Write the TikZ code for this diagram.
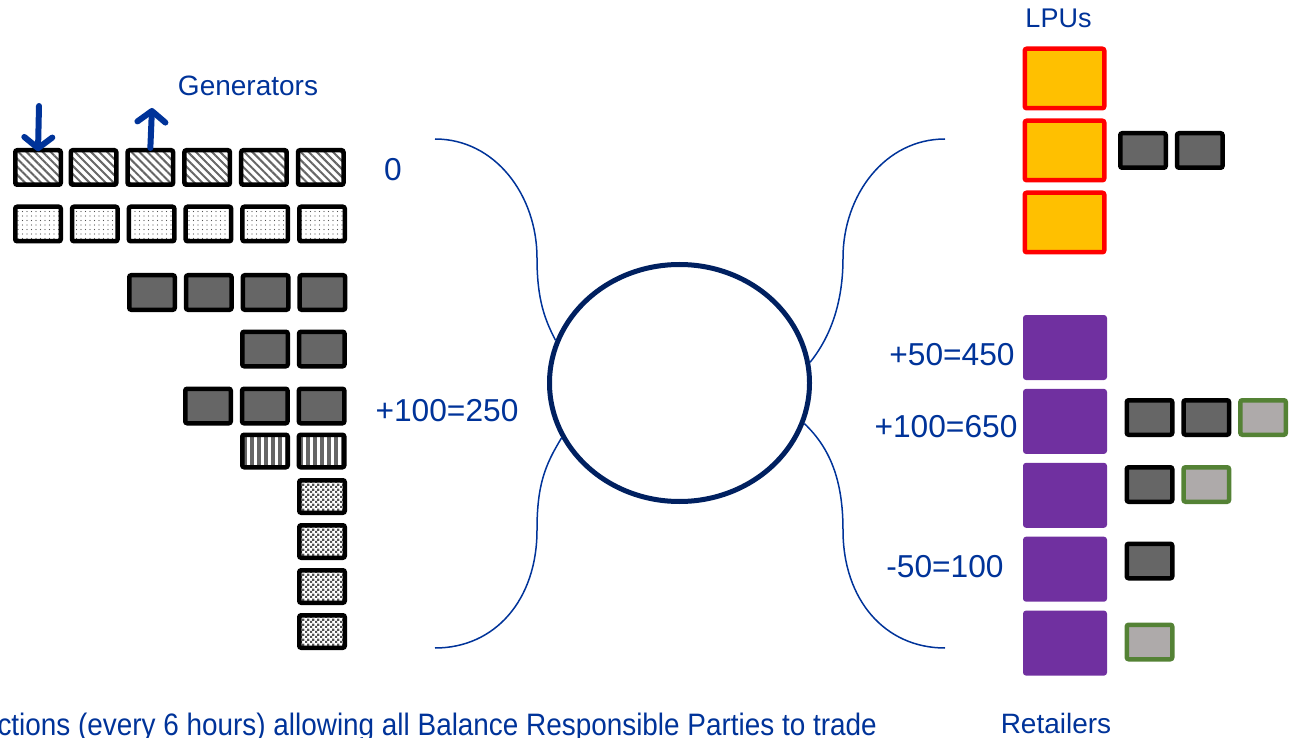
\documentclass[tikz,border=0pt]{standalone}
\usepackage{fontspec}
\setmainfont{Liberation Sans}
\newfontfamily\narrowfont{Liberation Sans}[FakeStretch=0.9]
\usepackage{tikz}
\usetikzlibrary{
  arrows.meta,
  shapes.geometric,
  positioning,
  patterns,
  patterns.meta
}
\definecolor{mkText}{HTML}{003399}
\definecolor{mkRing}{HTML}{002060}
\definecolor{mkUnit}{HTML}{666666}
\definecolor{mkFlex}{HTML}{AEAAAA}
\definecolor{mkGreen}{HTML}{548235}
\definecolor{mkLPU}{HTML}{FFC000}
\definecolor{mkRed}{HTML}{FF0000}
\definecolor{mkRetail}{HTML}{7030A0}
\pgfdeclarepatternformonly{finechecker}{\pgfpointorigin}{\pgfqpoint{5pt}{5pt}}{\pgfqpoint{5pt}{5pt}}{%
  \pgfpathrectangle{\pgfpointorigin}{\pgfqpoint{2.5pt}{2.5pt}}%
  \pgfpathrectangle{\pgfqpoint{2.5pt}{2.5pt}}{\pgfqpoint{2.5pt}{2.5pt}}%
  \pgfusepath{fill}}
\tikzset{
  mknode/.style={
    draw=black, line width=4.5pt, rounded corners=2pt, inner sep=0pt,
    minimum width=45.5pt, minimum height=34.5pt
  },
  genhatch/.style={mknode, pattern={Lines[angle=-45, distance=5.7pt, line width=2pt]}, pattern color=mkUnit},
  gendots/.style={mknode, pattern={Dots[distance=4.5pt, radius=0.7pt]}, pattern color=mkUnit!80!black},
  gendark/.style={mknode, fill=mkUnit},
  genstripe/.style={mknode, minimum height=32.5pt, pattern={Lines[angle=90, distance=7pt, line width=4pt]}, pattern color=mkUnit},
  genchecker/.style={mknode, minimum height=32.5pt, pattern=finechecker, pattern color=mkUnit!80!black},
  flexunit/.style={mknode, draw=mkGreen, fill=mkFlex},
  lpu/.style={mknode, draw=mkRed, fill=mkLPU, minimum width=79.5pt, minimum height=59.5pt},
  retailer/.style={draw=none, fill=mkRetail, rounded corners=3pt, inner sep=0pt, minimum width=84pt, minimum height=65pt},
  market/.style={draw=mkRing, line width=5pt, ellipse, minimum width=260pt, minimum height=237pt, inner sep=0pt},
  link/.style={draw=mkText, line width=1.5pt},
  genarrow/.style={draw=mkText, line width=6pt, line cap=round,
    -{Straight Barb[length=11pt, width=28pt, line width=6pt, round]}},
  lbl/.style={text=mkText, inner sep=0pt, font=\fontsize{31.7}{38}\selectfont}
}

\begin{document}
\begin{tikzpicture}[x=1pt, y=-1pt, node distance=6.8pt]
  \useasboundingbox (0,0) rectangle (1291,738);
  \node[lbl, font=\fontsize{28}{34}\selectfont] (gentitle) at (248,86) {Generators};
  \node[genhatch] (g11) at (38,167.5) {};
  \node[genhatch, right=of g11] (g12) {};
  \node[genhatch, right=of g12] (g13) {};
  \node[genhatch, right=of g13] (g14) {};
  \node[genhatch, right=of g14] (g15) {};
  \node[genhatch, right=of g15] (g16) {};
  \node[gendots] (g21) at (38,224) {};
  \node[gendots, right=of g21] (g22) {};
  \node[gendots, right=of g22] (g23) {};
  \node[gendots, right=of g23] (g24) {};
  \node[gendots, right=of g24] (g25) {};
  \node[gendots, right=of g25] (g26) {};
  \node[gendark] (g33) at (152,292.5) {};
  \node[gendark, right=of g33] (g34) {};
  \node[gendark, right=of g34] (g35) {};
  \node[gendark, right=of g35] (g36) {};
  \node[gendark] (g45) at (265,349) {};
  \node[gendark, right=of g45] (g46) {};
  \node[gendark] (g54) at (208,406) {};
  \node[gendark, right=of g54] (g55) {};
  \node[gendark, right=of g55] (g56) {};
  \node[genstripe] (g65) at (265,451) {};
  \node[genstripe, right=of g65] (g66) {};
  \node[genchecker] (g76) at (322,496.5) {};
  \node[genchecker, below=8pt of g76] (g86) {};
  \node[genchecker, below=8pt of g86] (g96) {};
  \node[genchecker, below=8pt of g96] (g106) {};
  \coordinate (cut) at (39,106);
  \coordinate (raise) at (152,108);
  \draw[genarrow] (cut) -- ([yshift=-2pt]g11.north);
  \draw[genarrow] (g13.north) -- (raise);
  \node[lbl] (genzero) at (393,170) {0};
  \node[lbl] (genplus) at (447,411) {+100=250};

  \node[market] (pool) at (679.5,383) {};
  \coordinate (genend1) at (435,139);
  \coordinate (genend2) at (435,648);
  \coordinate (retend1) at (945,139);
  \coordinate (retend2) at (945,648);
  \draw[link] (genend1) .. controls (495,139) and (537,195) .. (537,258)
    .. controls (537,300) and (545,320) .. (pool.161);
  \draw[link] (pool.205.5) .. controls (545,465) and (537,485) .. (537,530)
    .. controls (537,600) and (495,648) .. (genend2);
  \draw[link] (retend1) .. controls (885,139) and (843,195) .. (843,258)
    .. controls (843,300) and (832,335) .. (pool.9.6);
  \draw[link] (pool.342.7) .. controls (830,448) and (843,480) .. (843,530)
    .. controls (843,600) and (885,648) .. (retend2);

  \node[lbl, font=\fontsize{27}{32}\selectfont] (lputitle) at (1058.5,18) {LPUs};
  \node[lpu] (lpu1) at (1064.5,78.5) {};
  \node[lpu, below=8pt of lpu1] (lpu2) {};
  \node[lpu, below=8pt of lpu2] (lpu3) {};
  \node[gendark] (lpuunit1) at (1143,150.5) {};
  \node[gendark, right=of lpuunit1] (lpuunit2) {};

  \node[retailer] (ret1) at (1065,347.5) {};
  \node[retailer, below=8.5pt of ret1] (ret2) {};
  \node[retailer, below=8.5pt of ret2] (ret3) {};
  \node[retailer, below=8.5pt of ret3] (ret4) {};
  \node[retailer, below=8.5pt of ret4] (ret5) {};
  \node[gendark] (ret2a) at (1149.5,417.5) {};
  \node[gendark, right=of ret2a] (ret2b) {};
  \node[flexunit, right=of ret2b] (ret2c) {};
  \node[gendark] (ret3a) at (1149.5,484.5) {};
  \node[flexunit, right=of ret3a] (ret3b) {};
  \node[gendark] (ret4a) at (1149.5,561) {};
  \node[flexunit] (ret5a) at (1149.5,642) {};
  \node[lbl] (ret1lbl) at (952,355) {+50=450};
  \node[lbl] (ret2lbl) at (946,427) {+100=650};
  \node[lbl] (ret4lbl) at (945,567) {-50=100};
  \node[lbl, font=\fontsize{28}{34}\selectfont] (rettitle) at (1056,723) {Retailers};

  \node[lbl, font=\narrowfont\fontsize{31}{36}\selectfont, anchor=base east] (note) at (877,735)
    {ctions (every 6 hours) allowing all Balance Responsible Parties to trade};
\end{tikzpicture}
\end{document}
